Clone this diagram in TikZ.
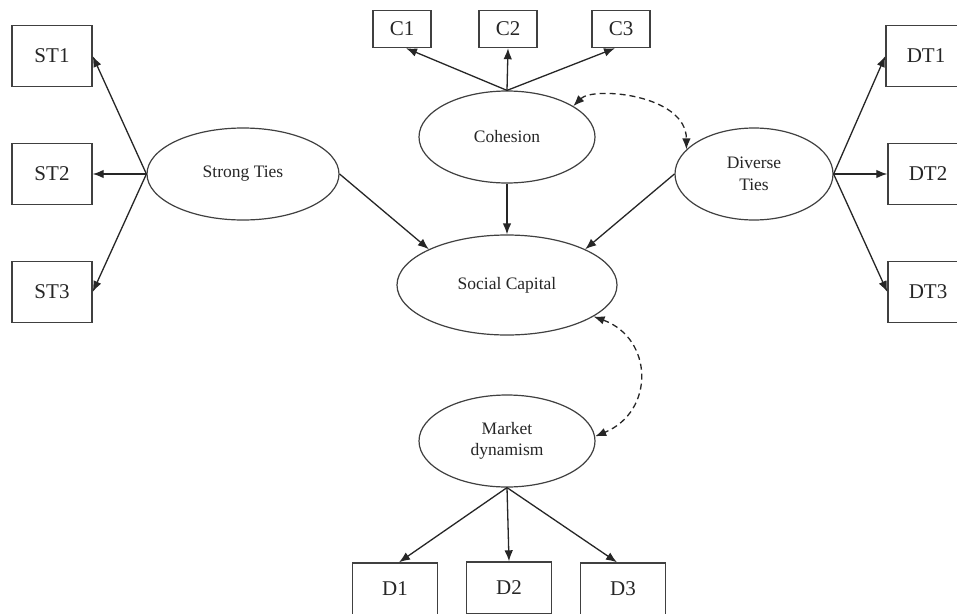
\documentclass[tikz,border=0pt]{standalone}
\usepackage{fontspec}
\setmainfont{Liberation Serif}
\usetikzlibrary{shapes.geometric,arrows.meta}

\begin{document}
\begin{tikzpicture}[x=1pt,y=-1pt,
  box/.style={draw=black!75, line width=1.4pt, rectangle, inner sep=0pt,
    font=\fontsize{21}{22}\selectfont, text=black!85},
  latent/.style={draw=black!75, line width=1.2pt, ellipse, inner sep=0pt,
    align=center, font=\fontsize{17.5}{21.5}\selectfont, text=black!85},
  path/.style={draw=black!85, line width=1.3pt, -{Latex[length=11pt,width=8.5pt]}},
  covar/.style={draw=black!85, line width=1.3pt, dash pattern=on 6pt off 4pt,
    {Latex[length=11pt,width=8.5pt]}-{Latex[length=11pt,width=8.5pt]}}]

\useasboundingbox (0,0) rectangle (957,613);
\clip (0,0) rectangle (957,613);
\fill[white] (0,0) rectangle (957,613);

% latent constructs
\node[latent, minimum width=192pt, minimum height=92pt] (st)  at (243,174) {Strong Ties};
\node[latent, minimum width=176pt, minimum height=92pt] (coh) at (507,137) {Cohesion};
\node[latent, minimum width=158pt, minimum height=92pt] (dt)  at (754,174) {Diverse\\Ties};
\node[latent, minimum width=220pt, minimum height=100pt] (sc) at (507,285) {Social Capital};
\node[latent, minimum width=176pt, minimum height=92pt] (md)  at (507,441) {Market\\dynamism};

% indicators of strong ties
\node[box, minimum width=80pt, minimum height=61pt] (st1) at (52,56)  {ST1};
\node[box, minimum width=80pt, minimum height=61pt] (st2) at (52,174) {ST2};
\node[box, minimum width=80pt, minimum height=61pt] (st3) at (52,292) {ST3};

% indicators of cohesion
\node[box, minimum width=58pt, minimum height=37pt] (c1) at (402,29) {C1};
\node[box, minimum width=58pt, minimum height=37pt] (c2) at (508,29) {C2};
\node[box, minimum width=58pt, minimum height=37pt] (c3) at (621,29) {C3};

% indicators of diverse ties
\node[box, minimum width=80pt, minimum height=61pt] (dt1) at (926,56)  {DT1};
\node[box, minimum width=80pt, minimum height=61pt] (dt2) at (928,174) {DT2};
\node[box, minimum width=80pt, minimum height=61pt] (dt3) at (928,292) {DT3};

% indicators of market dynamism
\node[box, minimum width=85pt, minimum height=52pt] (d1) at (395,589) {D1};
\node[box, minimum width=85pt, minimum height=52pt] (d2) at (509,588) {D2};
\node[box, minimum width=85pt, minimum height=52pt] (d3) at (623,589) {D3};

% loadings
\draw[path] (st.west) -- (st1.east);
\draw[path] (st.west) -- (st2.east);
\draw[path] (st.west) -- (st3.east);

\draw[path] (coh.north) -- ([xshift=4pt]c1.south);
\draw[path] (coh.north) -- (c2.south);
\draw[path] (coh.north) -- ([xshift=-6pt]c3.south);

\draw[path] (dt.east) -- (dt1.west);
\draw[path] (dt.east) -- (dt2.west);
\draw[path] (dt.east) -- (dt3.west);

\draw[path] (md.south) -- ([xshift=4pt]d1.north);
\draw[path] (md.south) -- (d2.north);
\draw[path] (md.south) -- ([xshift=-6pt]d3.north);

% structural paths
\draw[path] (st.east) -- (sc.north west);
\draw[path] (coh.south) -- (sc.north);
\draw[path] (dt.west) -- (sc.north east);

% covariances
\draw[covar] (coh.25) .. controls +(20,-20) and +(0,-55) .. (dt.160);
\draw[covar] (sc.-20) .. controls +(60,22) and +(60,-25) .. (md.3);

\end{tikzpicture}
\end{document}
